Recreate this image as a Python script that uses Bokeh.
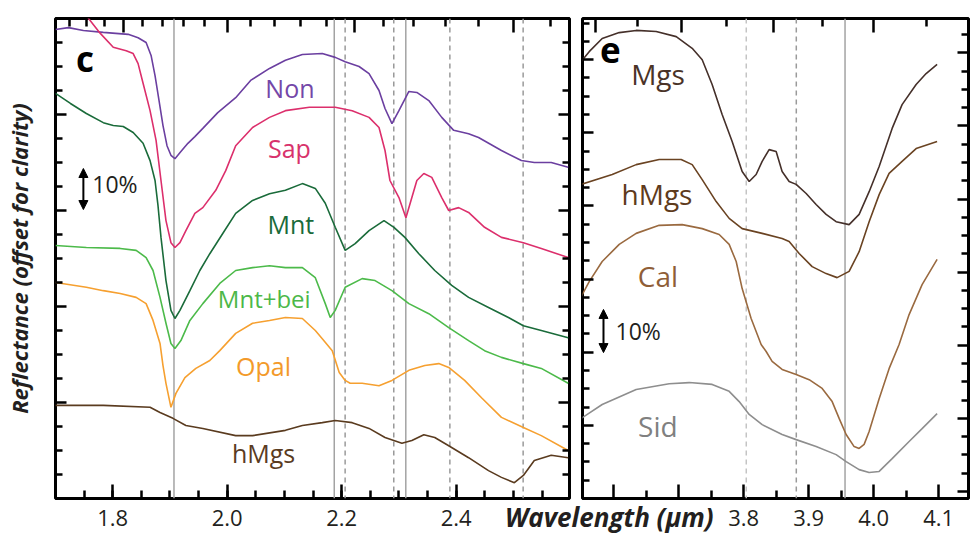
from bokeh.plotting import figure
from bokeh.models import (Range1d, LinearAxis, FixedTicker, CustomJSTickFormatter,
                          Span, Label, Arrow, NormalHead, Div)
from bokeh.layouts import row, column
from bokeh.embed import file_html
from bokeh.resources import INLINE

FONT = "Open Sans"
TXT = "#231f20"

# ---------------- panel c data (wavelength um, reflectance offset) ----------------
non_x = [1.700, 1.7226, 1.7487, 1.7835, 1.827, 1.8443, 1.8583, 1.867, 1.8739, 1.8809, 1.8878, 1.8948,
         1.9017, 1.9087, 1.9191, 1.9313, 1.9435, 1.9574, 1.9835, 2.0148, 2.0409, 2.0739, 2.1017, 2.1313,
         2.1661, 2.1887, 2.2061, 2.2304, 2.2478, 2.2652, 2.2757, 2.2878, 2.300, 2.3174, 2.3313, 2.3522,
         2.3748, 2.3957, 2.4217, 2.4391, 2.4791, 2.5139, 2.5365, 2.5661, 2.5957]
non_y = [0.977, 0.981, 0.975, 0.971, 0.967, 0.960, 0.950, 0.923, 0.881, 0.829, 0.777, 0.735,
         0.715, 0.708, 0.723, 0.740, 0.754, 0.771, 0.804, 0.835, 0.871, 0.896, 0.913, 0.925,
         0.927, 0.919, 0.910, 0.900, 0.885, 0.850, 0.8125, 0.781, 0.808, 0.848, 0.846, 0.829,
         0.794, 0.767, 0.760, 0.752, 0.725, 0.704, 0.700, 0.700, 0.690]

sap_x = [1.740, 1.7591, 1.7783, 1.8009, 1.8235, 1.8357, 1.8443, 1.853, 1.8652, 1.8757, 1.8843, 1.893,
         1.9017, 1.9087, 1.9174, 1.9278, 1.9435, 1.9574, 1.980, 1.9974, 2.0148, 2.0443, 2.0739, 2.1017,
         2.1435, 2.1887, 2.2183, 2.2478, 2.2652, 2.2757, 2.2843, 2.300, 2.3122, 2.3226, 2.3313, 2.3435,
         2.3574, 2.3748, 2.387, 2.4043, 2.4217, 2.4496, 2.4791, 2.5174, 2.5487, 2.5957]
sap_y = [1.027, 0.998, 0.969, 0.940, 0.933, 0.927, 0.906, 0.865, 0.808, 0.746, 0.6625, 0.579,
         0.533, 0.523, 0.533, 0.558, 0.594, 0.606, 0.642, 0.683, 0.735, 0.773, 0.794, 0.808,
         0.815, 0.815, 0.808, 0.794, 0.773, 0.725, 0.6625, 0.627, 0.585, 0.627, 0.6625, 0.677,
         0.669, 0.627, 0.600, 0.606, 0.596, 0.565, 0.544, 0.533, 0.521, 0.502]

mnt_x = [1.700, 1.7261, 1.7539, 1.7835, 1.8009, 1.8183, 1.8357, 1.853, 1.8652, 1.8739, 1.8791, 1.8843,
         1.893, 1.9017, 1.9087, 1.9174, 1.9348, 1.9522, 1.9696, 1.9922, 2.0148, 2.0443, 2.0739, 2.1017,
         2.1313, 2.1539, 2.1713, 2.1887, 2.2061, 2.2235, 2.2478, 2.2739, 2.2913, 2.3104, 2.3348, 2.3626,
         2.3922, 2.4217, 2.4565, 2.4913, 2.5174, 2.5487, 2.5957]
mnt_y = [0.844, 0.823, 0.802, 0.783, 0.777, 0.775, 0.7625, 0.740, 0.704, 0.6625, 0.610, 0.544,
         0.454, 0.392, 0.375, 0.392, 0.433, 0.475, 0.510, 0.552, 0.594, 0.621, 0.635, 0.642,
         0.656, 0.646, 0.615, 0.565, 0.517, 0.531, 0.558, 0.579, 0.565, 0.544, 0.510, 0.475,
         0.444, 0.419, 0.398, 0.377, 0.360, 0.350, 0.335]

mntbei_x = [1.700, 1.7539, 1.813, 1.8409, 1.8583, 1.8704, 1.8826, 1.893, 1.9017, 1.9087, 1.9191, 1.9348,
            1.9574, 1.987, 2.0148, 2.0443, 2.0739, 2.1017, 2.1313, 2.1539, 2.1713, 2.180, 2.1887, 2.2061,
            2.2357, 2.2583, 2.2878, 2.3174, 2.3522, 2.387, 2.4217, 2.4496, 2.4791, 2.5174, 2.5487, 2.5957]
mntbei_y = [0.527, 0.523, 0.521, 0.517, 0.502, 0.475, 0.419, 0.365, 0.323, 0.3125, 0.329, 0.371,
            0.406, 0.448, 0.475, 0.481, 0.485, 0.481, 0.481, 0.460, 0.406, 0.377, 0.392, 0.440,
            0.458, 0.454, 0.433, 0.406, 0.385, 0.356, 0.329, 0.308, 0.294, 0.281, 0.271, 0.240]

opal_x = [1.700, 1.7539, 1.7835, 1.813, 1.8409, 1.8583, 1.8704, 1.8826, 1.8878, 1.893, 1.9017, 1.9104,
          1.9261, 1.9452, 1.9696, 1.987, 2.0148, 2.0443, 2.0739, 2.1017, 2.1313, 2.1539, 2.1661, 2.1835,
          2.1957, 2.2061, 2.2148, 2.2357, 2.2652, 2.2878, 2.3174, 2.3452, 2.3696, 2.387, 2.4148, 2.4443,
          2.4791, 2.5174, 2.5487, 2.5957]
opal_y = [0.450, 0.440, 0.433, 0.427, 0.419, 0.406, 0.371, 0.323, 0.277, 0.240, 0.190, 0.219,
          0.252, 0.271, 0.2875, 0.308, 0.344, 0.365, 0.371, 0.377, 0.375, 0.350, 0.333, 0.308,
          0.2625, 0.246, 0.240, 0.240, 0.235, 0.246, 0.267, 0.277, 0.281, 0.273, 0.246, 0.210,
          0.169, 0.148, 0.131, 0.100]

hmgs_c_x = [1.700, 1.7835, 1.8652, 1.8826, 1.9052, 1.9278, 1.9574, 2.0148, 2.0443, 2.1017, 2.1313, 2.1661,
            2.1887, 2.2183, 2.2478, 2.2757, 2.3052, 2.3226, 2.3435, 2.3626, 2.387, 2.4217, 2.4565, 2.4791,
            2.5017, 2.5174, 2.5365, 2.5661, 2.5957]
hmgs_c_y = [0.194, 0.194, 0.190, 0.179, 0.167, 0.152, 0.146, 0.131, 0.131, 0.142, 0.152, 0.158,
            0.1625, 0.158, 0.146, 0.127, 0.115, 0.121, 0.133, 0.127, 0.110, 0.085, 0.058, 0.044,
            0.033, 0.048, 0.079, 0.090, 0.085]

# ---------------- panel e data ----------------
mgs_x = [3.550, 3.5623, 3.5823, 3.6085, 3.6346, 3.6654, 3.6962, 3.7208, 3.7362, 3.7515, 3.7669, 3.7823,
         3.7977, 3.8085, 3.8192, 3.8285, 3.8392, 3.850, 3.8592, 3.870, 3.8808, 3.8962, 3.9115, 3.9269,
         3.9423, 3.9623, 3.9777, 3.9931, 4.0085, 4.0285, 4.0438, 4.0654, 4.0808, 4.0977]
mgs_y = [1.195, 1.222, 1.258, 1.274, 1.280, 1.277, 1.263, 1.231, 1.200, 1.132, 1.050, 0.976,
         0.894, 0.867, 0.886, 0.922, 0.954, 0.949, 0.894, 0.867, 0.859, 0.834, 0.804, 0.777,
         0.757, 0.749, 0.777, 0.839, 0.908, 1.012, 1.077, 1.132, 1.162, 1.187]

hmgs_e_x = [3.550, 3.5977, 3.6346, 3.670, 3.7038, 3.7208, 3.7362, 3.7577, 3.7777, 3.7977, 3.8285, 3.8592,
            3.870, 3.8854, 3.9054, 3.9269, 3.9438, 3.9623, 3.9777, 3.9931, 4.0085, 4.0238, 4.0438, 4.0654,
            4.0977]
hmgs_e_y = [0.859, 0.886, 0.913, 0.927, 0.927, 0.913, 0.872, 0.812, 0.766, 0.738, 0.725, 0.711,
            0.703, 0.670, 0.634, 0.615, 0.604, 0.621, 0.675, 0.757, 0.831, 0.889, 0.922, 0.957,
            0.976]

cal_x = [3.550, 3.5623, 3.5823, 3.6085, 3.6346, 3.670, 3.7054, 3.7362, 3.7623, 3.7777, 3.7885, 3.7977,
         3.8115, 3.8269, 3.8346, 3.8438, 3.8592, 3.8808, 3.9008, 3.9208, 3.9362, 3.9469, 3.9577, 3.970,
         3.9777, 3.9854, 3.9931, 4.0085, 4.0238, 4.0392, 4.0546, 4.0746, 4.0977]
cal_y = [0.552, 0.593, 0.648, 0.695, 0.725, 0.747, 0.749, 0.738, 0.722, 0.695, 0.648, 0.574,
         0.492, 0.421, 0.402, 0.375, 0.353, 0.339, 0.325, 0.301, 0.265, 0.219, 0.175, 0.142,
         0.137, 0.148, 0.183, 0.273, 0.355, 0.421, 0.503, 0.585, 0.654]

sid_x = [3.550, 3.5823, 3.6346, 3.6854, 3.7162, 3.7515, 3.7777, 3.7931, 3.8085, 3.8285, 3.8592, 3.8808,
         3.9115, 3.9423, 3.9577, 3.9777, 3.9931, 4.0085, 4.0285, 4.0546, 4.0746, 4.0977]
sid_y = [0.219, 0.257, 0.298, 0.314, 0.317, 0.312, 0.293, 0.265, 0.230, 0.202, 0.175, 0.161,
         0.142, 0.120, 0.101, 0.079, 0.071, 0.074, 0.109, 0.156, 0.191, 0.232]

# band reference lines (um)
c_solid = [1.907, 2.187, 2.312]
c_dashed = [2.206, 2.291, 2.389, 2.517]
e_dashed_light = [3.804]
e_dashed = [3.881]
e_solid = [3.956]

# tick positions
c_x_major = [1.8, 2.0, 2.2, 2.4]
c_x_minor = [1.75, 1.8, 1.85, 1.9, 1.95, 2.0, 2.05, 2.1, 2.15, 2.2, 2.25, 2.3, 2.35, 2.4, 2.45, 2.5, 2.55]
e_x_major = [3.6, 3.7, 3.8, 3.9, 4.0, 4.1]
e_x_minor = [3.65, 3.75, 3.85, 3.95, 4.05]
c_top_major_wn = [5500, 5000, 4500, 4000]
c_top_minor_wn = [5800, 5700, 5600, 5400, 5300, 5200, 5100, 4900, 4800, 4700, 4600,
                  4400, 4300, 4200, 4100, 3900]
e_top_major_wn = [2800, 2700, 2600, 2500]
e_top_minor_wn = [2750, 2650, 2550, 2450]
y_major = [0.0, 0.2, 0.4, 0.6, 0.8, 1.0, 1.2]
y_minor = [0.05, 0.1, 0.15, 0.25, 0.3, 0.35, 0.45, 0.5, 0.55, 0.65, 0.7, 0.75,
           0.85, 0.9, 0.95, 1.05, 1.1, 1.15, 1.25, 1.3]

blank = CustomJSTickFormatter(code="return ''")


def style_axis(ax, major_in, minor_in, labels):
    ax.axis_line_color = None
    ax.major_tick_in = major_in
    ax.major_tick_out = 0
    ax.minor_tick_in = minor_in
    ax.minor_tick_out = 0
    ax.major_tick_line_width = 2.5
    ax.minor_tick_line_width = 2.5
    ax.major_tick_line_color = "black"
    ax.minor_tick_line_color = "black"
    ax.major_label_text_font = FONT
    ax.major_label_text_font_size = "22px"
    ax.major_label_text_color = TXT
    if not labels:
        ax.formatter = blank
        ax.major_label_standoff = 0


def base_fig(width, xr, yr, mbl, mbr, **kw):
    p = figure(width=width, height=536, x_range=xr, y_range=yr,
               output_backend="svg", toolbar_location=None,
               min_border_left=mbl, min_border_right=mbr,
               min_border_top=18, min_border_bottom=38, **kw)
    p.xgrid.visible = False
    p.ygrid.visible = False
    p.outline_line_color = "black"
    p.outline_line_width = 3
    p.background_fill_color = "white"
    return p


# ================= panel c =================
p1 = base_fig(575, Range1d(1.7, 2.598), Range1d(0.0, 1.0), 52, 6)
bx = p1.below[0]
bx.ticker = FixedTicker(ticks=c_x_major, minor_ticks=c_x_minor)
bx.formatter = CustomJSTickFormatter(code="return tick.toFixed(1)")
style_axis(bx, 14, 8, True)
bx.major_label_standoff = 11

ly = p1.left[0]
ly.ticker = FixedTicker(ticks=y_major, minor_ticks=y_minor)
style_axis(ly, 11, 7, False)
ly.axis_label = "Reflectance (offset for clarity)"
ly.axis_label_text_font = FONT
ly.axis_label_text_font_style = "bold italic"
ly.axis_label_text_font_size = "22px"
ly.axis_label_text_color = TXT
ly.axis_label_standoff = 22

ty = LinearAxis(ticker=FixedTicker(ticks=[1e4 / w for w in c_top_major_wn],
                                   minor_ticks=[1e4 / w for w in c_top_minor_wn]))
style_axis(ty, 14, 8, False)
p1.add_layout(ty, "above")
ry = LinearAxis(ticker=FixedTicker(ticks=y_major, minor_ticks=y_minor))
style_axis(ry, 11, 7, False)
p1.add_layout(ry, "right")

for loc in c_solid:
    p1.add_layout(Span(location=loc, dimension="height", line_color="#a3a3a3",
                       line_width=1.5, level="underlay"))
for loc in c_dashed:
    p1.add_layout(Span(location=loc, dimension="height", line_color="#9a9a9a",
                       line_width=1.5, line_dash="5 4", level="underlay"))

c_series = [
    (non_x, non_y, "#6b3fa0"),
    (sap_x, sap_y, "#dc2f6c"),
    (mnt_x, mnt_y, "#1a6b3a"),
    (mntbei_x, mntbei_y, "#4cba4a"),
    (opal_x, opal_y, "#f6a030"),
    (hmgs_c_x, hmgs_c_y, "#5a3b1f"),
]
for xs, ys, col in c_series:
    p1.line(xs, ys, line_color=col, line_width=1.6)

c_labels = [
    ("Non", 2.1096, 0.856, "#7447a8", "25px"),
    ("Sap", 2.1087, 0.731, "#d8326c", "25px"),
    ("Mnt", 2.1113, 0.571, "#1a6b3a", "25px"),
    ("Mnt+bei", 2.0647, 0.417, "#4cb848", "24px"),
    ("Opal", 2.0635, 0.277, "#f39a2a", "25px"),
    ("hMgs", 2.0635, 0.094, "#5a3b1f", "25px"),
]
for t, x, y, col, fs in c_labels:
    p1.add_layout(Label(x=x, y=y, text=t, text_font=FONT, text_font_size=fs,
                        text_color=col, text_align="center", text_baseline="alphabetic"))

p1.add_layout(Label(x=1.736, y=0.917, text="c", text_font=FONT, text_font_size="35px",
                    text_font_style="bold", text_color="black", text_align="left",
                    text_baseline="alphabetic"))
p1.add_layout(Arrow(x_start=1.7487, y_start=0.602, x_end=1.7487, y_end=0.6875, line_width=2,
                    line_color="black",
                    start=NormalHead(size=9, fill_color="black", line_color="black"),
                    end=NormalHead(size=9, fill_color="black", line_color="black")))
p1.add_layout(Label(x=1.7643, y=0.656, text="10%", text_font=FONT, text_font_size="23px",
                    text_color=TXT, text_align="left", text_baseline="alphabetic"))

# ================= panel e =================
p2 = base_fig(471, Range1d(3.552, 4.146), Range1d(0.0, 1.3126), 82, 3,
              margin=(0, 0, 0, -75))
p2.border_fill_color = None
p2.extra_y_ranges = {"ry": Range1d(-0.019, 1.2936)}

bx2 = p2.below[0]
bx2.ticker = FixedTicker(ticks=e_x_major, minor_ticks=e_x_minor)
bx2.formatter = CustomJSTickFormatter(code="return tick > 3.75 ? tick.toFixed(1) : ''")
style_axis(bx2, 14, 8, True)
bx2.major_label_standoff = 11

ly2 = p2.left[0]
ly2.ticker = FixedTicker(ticks=y_major, minor_ticks=y_minor)
style_axis(ly2, 11, 7, False)

ty2 = LinearAxis(ticker=FixedTicker(ticks=[1e4 / w for w in e_top_major_wn],
                                    minor_ticks=[1e4 / w for w in e_top_minor_wn]))
style_axis(ty2, 14, 8, False)
p2.add_layout(ty2, "above")
ry2 = LinearAxis(y_range_name="ry", ticker=FixedTicker(ticks=y_major, minor_ticks=y_minor))
style_axis(ry2, 11, 7, False)
p2.add_layout(ry2, "right")

for loc in e_dashed_light:
    p2.add_layout(Span(location=loc, dimension="height", line_color="#c4c4c4",
                       line_width=1.5, line_dash="5 4", level="underlay"))
for loc in e_dashed:
    p2.add_layout(Span(location=loc, dimension="height", line_color="#9a9a9a",
                       line_width=1.5, line_dash="5 4", level="underlay"))
for loc in e_solid:
    p2.add_layout(Span(location=loc, dimension="height", line_color="#a3a3a3",
                       line_width=1.5, level="underlay"))

e_series = [
    (mgs_x, mgs_y, "#45302a"),
    (hmgs_e_x, hmgs_e_y, "#6a4322"),
    (cal_x, cal_y, "#9a6a40"),
    (sid_x, sid_y, "#8e8e8e"),
]
for xs, ys, col in e_series:
    p2.line(xs, ys, line_color=col, line_width=1.6)

e_labels = [
    ("Mgs", 3.6682, 1.162, "#4a3327"),
    ("hMgs", 3.6666, 0.834, "#5e3b1c"),
    ("Cal", 3.668, 0.609, "#8f5e37"),
    ("Sid", 3.668, 0.197, "#808080"),
]
for t, x, y, col in e_labels:
    p2.add_layout(Label(x=x, y=y, text=t, text_font=FONT, text_font_size="28px",
                        text_color=col, text_align="center", text_baseline="alphabetic"))

p2.add_layout(Label(x=3.579, y=1.227, text="e", text_font=FONT, text_font_size="35px",
                    text_font_style="bold", text_color="black", text_align="left",
                    text_baseline="alphabetic"))
p2.add_layout(Arrow(x_start=3.5843, y_start=0.399, x_end=3.5843, y_end=0.517, line_width=2,
                    line_color="black",
                    start=NormalHead(size=9, fill_color="black", line_color="black"),
                    end=NormalHead(size=9, fill_color="black", line_color="black")))
p2.add_layout(Label(x=3.6028, y=0.459, text="10%", text_font=FONT, text_font_size="23px",
                    text_color=TXT, text_align="left", text_baseline="alphabetic"))

# shared x-axis title, spanning the gap between the two panels
x_title = Div(
    text=('<span style="font-family:\'Open Sans\';font-size:26px;font-weight:bold;'
          'font-style:italic;color:#231f20;line-height:26px;white-space:nowrap">'
          'Wavelength (\u00b5m)</span>'),
    width=240, height=26, margin=(-32, 0, 0, 505),
    styles={"line-height": "26px"})

layout = column(row(p1, p2), x_title)
open("out.html", "w").write(file_html(layout, INLINE))
